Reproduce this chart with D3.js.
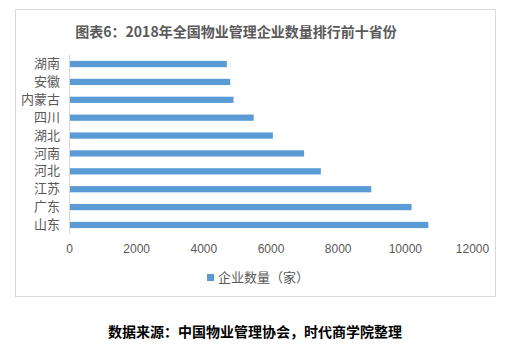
<!DOCTYPE html>
<html><head><meta charset="utf-8">
<script src="https://cdn.jsdelivr.net/npm/d3@7"></script>
<style>body{margin:0;background:#fff;}svg{display:block;}</style>
</head><body>
<script>
const categories = ["湖南","安徽","内蒙古","四川","湖北","河南","河北","江苏","广东","山东"];
const values = [4700,4800,4900,5500,6070,7000,7500,9000,10200,10700];
const xTicks = [0,2000,4000,6000,8000,10000,12000];
const seriesName = "企业数量（家）";
const title = "图表6：2018年全国物业管理企业数量排行前十省份";
const source = "数据来源：中国物业管理协会，时代商学院整理";

const W = 510, H = 352;
const font = "'Noto Sans CJK SC','Microsoft YaHei',sans-serif";
const svg = d3.select("body").append("svg").attr("width", W).attr("height", H);
svg.append("rect").attr("x",15.5).attr("y",9.5).attr("width",480).attr("height",287)
  .attr("fill","#fff").attr("stroke","#d9d9d9");

svg.append("text").attr("x",236).attr("y",37).attr("text-anchor","middle")
  .attr("font-family",font).attr("font-weight","bold").attr("font-size",14)
  .attr("fill","#595959").text(title);

const x = d3.scaleLinear().domain([0,12000]).range([69,472]);
const y = d3.scaleBand().domain(categories).range([55,234]).paddingInner(0.65).paddingOuter(0.33);

svg.selectAll("rect.bar").data(values).join("rect").attr("class","bar")
  .attr("x",x(0)).attr("y",(d,i)=>y(categories[i]))
  .attr("width",d=>x(d)-x(0)).attr("height",y.bandwidth()).attr("fill","#5b9bd5");

svg.append("line").attr("x1",69.5).attr("x2",69.5).attr("y1",55).attr("y2",234)
  .attr("stroke","#d9d9d9");

const yAxis = d3.axisLeft(y).tickSize(0).tickPadding(9);
const gy = svg.append("g").attr("transform","translate(69,0)").call(yAxis);
gy.select(".domain").remove();
gy.selectAll("text").attr("font-family",font).attr("font-size",13).attr("fill","#595959");

const xAxis = d3.axisBottom(x).tickValues(xTicks).tickSize(0).tickPadding(0).tickFormat(d3.format("d"));
const gx = svg.append("g").attr("transform","translate(0,244)").call(xAxis);
gx.select(".domain").remove();
gx.selectAll("text").attr("font-family","'Liberation Sans',Arial,sans-serif").attr("font-size",12).attr("fill","#595959");

svg.append("rect").attr("x",207).attr("y",274).attr("width",7).attr("height",7).attr("fill","#5b9bd5");
svg.append("text").attr("x",218).attr("y",282).attr("font-family",font).attr("font-size",13)
  .attr("fill","#595959").text(seriesName);

svg.append("text").attr("x",108).attr("y",337).attr("font-family",font).attr("font-weight","bold")
  .attr("font-size",14).attr("fill","#000").text(source);
</script>
</body></html>
